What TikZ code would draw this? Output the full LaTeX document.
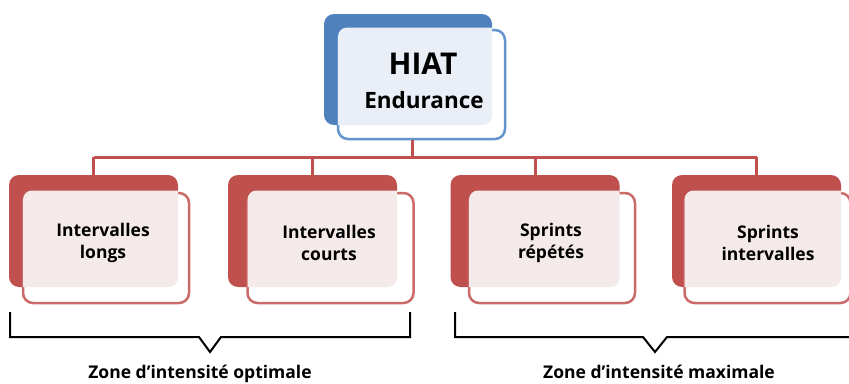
\documentclass[tikz,border=0pt]{standalone}
\usepackage{fontspec}
\setmainfont{Open Sans}
\definecolor{rdark}{HTML}{C0504D}
\definecolor{rline}{HTML}{CB6B69}
\definecolor{rlight}{HTML}{F5EAEA}
\definecolor{bdark}{HTML}{4F81BD}
\definecolor{bline}{HTML}{6394CC}
\definecolor{blight}{HTML}{EAEFF7}
\tikzset{
  backbox/.style={rounded corners=10pt, inner sep=0pt, fill=#1},
  frontbox/.style={rounded corners=10pt, inner sep=0pt, draw=#1, line width=2.5pt, fill=white},
  conn/.style={draw=rdark, line width=3pt},
  brace/.style={draw=black, line width=2pt},
  childtxt/.style={font=\bfseries\fontsize{17.5}{22}\selectfont, align=center, inner sep=0pt},
  zonetxt/.style={font=\bfseries\fontsize{17.5}{20}\selectfont, inner sep=0pt, anchor=base}
}
\newcommand{\childbox}[6]{%
  \node[backbox=rdark, minimum width=169pt, minimum height=112pt] (b#1) at (#2,231) {};
  \node[frontbox=rline, minimum width=166pt, minimum height=110pt] (f#1) at (#3,248) {};
  \begin{scope}
    \clip[rounded corners=10pt] (b#1.north west) rectangle (b#1.south east);
    \fill[rlight, rounded corners=9pt] ([shift={(1.25pt,1.25pt)}]f#1.north west) rectangle ([shift={(-1.25pt,-1.25pt)}]f#1.south east);
  \end{scope}
  \node[childtxt] (t#1) at (#4,243) {#5};
}
\begin{document}
\begin{tikzpicture}[x=1pt,y=-1pt]
\useasboundingbox (0,0) rectangle (849,383);
% top box
\node[backbox=bdark, minimum width=168pt, minimum height=111pt] (b0) at (408,69.5) {};
\node[frontbox=bline, minimum width=167pt, minimum height=109pt] (f0) at (421.5,84.5) {};
\begin{scope}
  \clip[rounded corners=10pt] (b0.north west) rectangle (b0.south east);
  \fill[blight, rounded corners=9pt] ([shift={(1.25pt,1.25pt)}]f0.north west) rectangle ([shift={(-1.25pt,-1.25pt)}]f0.south east);
\end{scope}
\node[font=\bfseries\fontsize{30}{32}\selectfont, inner sep=0pt] (t0a) at (423,64) {HIAT};
\node[font=\bfseries\fontsize{22.5}{26}\selectfont, inner sep=0pt] (t0b) at (424,100) {Endurance};
% children
\childbox{1}{93.5}{106}{103}{Intervalles\\longs}{}
\childbox{2}{312.5}{330.5}{329}{Intervalles\\courts}{}
\childbox{3}{535}{552}{551}{Sprints\\répétés}{}
\childbox{4}{756.5}{767.5}{768}{Sprints\\intervalles}{}
% connectors
\coordinate (hub) at (412,157);
\draw[conn] (f0.south -| hub) -- (hub);
\draw[conn] (b1.north |- hub) -- (b4.north |- hub);
\foreach \i in {1,2,3,4} { \draw[conn] (b\i.north |- hub) -- (b\i.north); }
% brackets
\coordinate (lbA) at (10,312);
\coordinate (lbB) at (410,312);
\coordinate (lbT) at (210,352);
\draw[brace, line join=miter] (lbA) -- (10,337) -- (199,337) -- (lbT) -- (221,337) -- (410,337) -- (lbB);
\coordinate (rbA) at (455,312);
\coordinate (rbT) at (655,352);
\coordinate (rbE) at (852,337);
\draw[brace, line join=miter] (rbA) -- (455,337) -- (643,337) -- (rbT) -- (667,337) -- (rbE);
\node[zonetxt] (z1) at (200,378) {Zone d’intensité optimale};
\node[zonetxt] (z2) at (659,378) {Zone d’intensité maximale};
\end{tikzpicture}
\end{document}
